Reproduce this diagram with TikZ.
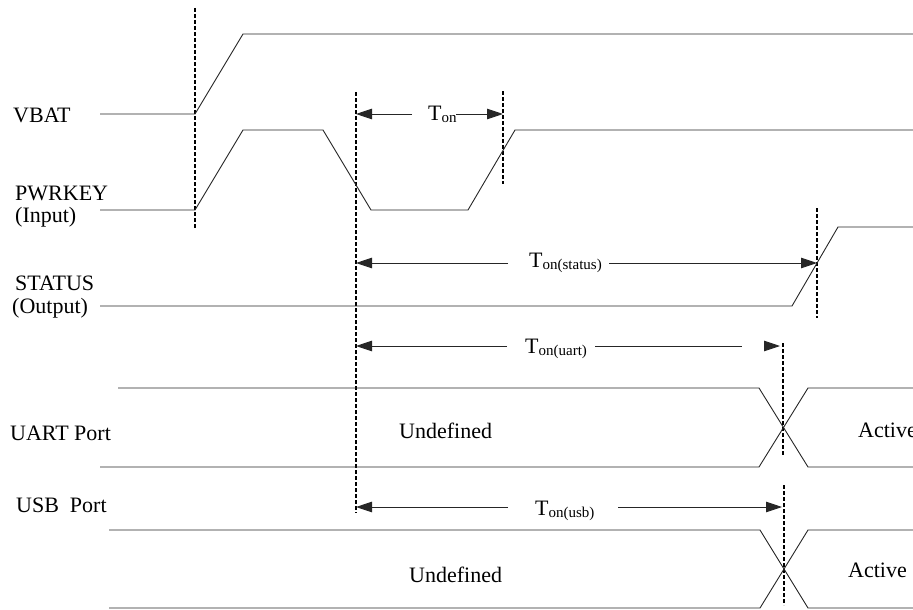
\documentclass[tikz,border=0pt]{standalone}
\usepackage{fontspec}
\setmainfont{Liberation Serif}
\usetikzlibrary{arrows.meta}
\newcommand{\tsig}[1]{T\lower2.5pt\hbox{\fontsize{15}{18}\selectfont #1}}
\tikzset{
  wave/.style={line width=0.9pt, black!85},
  marker/.style={line width=1.2pt, dash pattern=on 4pt off 2pt},
  dim/.style={line width=0.9pt, black!85},
  head/.style={-{Triangle[length=16pt,width=10.5pt]}},
  lbl/.style={anchor=base west, inner sep=0pt, font=\fontsize{22}{26}\selectfont}
}
\begin{document}
\begin{tikzpicture}[x=1pt,y=-1pt]
    \useasboundingbox (0,0) rectangle (913,610);
    % time markers
    \foreach \name/\x/\top/\bot in {m0/195/8/228, m1/356/92/513, m2/503/91/184, m3/817/208/318, m4/783/343/455, m5/784/485/605} {
        \coordinate (\name top) at (\x,\top);
        \coordinate (\name bot) at (\x,\bot);
        \draw[marker] (\name top) -- (\name bot);
    }
    % signal names
    \foreach \name/\x/\y/\label in {vbat/13/122/VBAT, pwrkey/15/200/PWRKEY, input/15/222/(Input), status/15/290/STATUS, output/12/313/(Output), uart/10/440/UART Port, usb/16/512/USB~~Port} {
        \node[lbl] (\name) at (\x,\y) {\label};
    }
    % waveforms
    \draw[wave] (100,114) -- (195,114) -- (243,34) -- (913,34);
    \draw[wave] (100,210) -- (195,210) -- (243,130) -- (323,130) -- (371,210) -- (468,210) -- (515,130) -- (913,130);
    \draw[wave] (100,306) -- (792,306) -- (838,227) -- (913,227);
    \draw[wave] (118,388) -- (759,388) -- (808,467) -- (913,467);
    \draw[wave] (100,467) -- (759,467) -- (808,388) -- (913,388);
    \draw[wave] (109,530) -- (760,530) -- (808,608) -- (913,608);
    \draw[wave] (109,608) -- (760,608) -- (808,530) -- (913,530);
    \node[lbl] (undefuart) at (399,438) {Undefined};
    \node[lbl] (actuart) at (858,437) {Active};
    \node[lbl] (undefusb) at (409,582) {Undefined};
    \node[lbl] (actusb) at (848,577) {Active};
    % timing intervals
    \foreach \name/\y/\base/\la/\tx/\rb/\rx/\sub in {ton/114/120/412/428/456/503/on, tonstatus/263/267/508/529/609/817/on(status), tonusb/507/515/508/535/618/782/on(usb)} {
        \coordinate (\name a) at (356,\y);
        \coordinate (\name b) at (\rx,\y);
        \draw[dim,head] (\la,\y) -- (\name a);
        \draw[dim,head] (\rb,\y) -- (\name b);
        \node[lbl] (\name) at (\tx,\base) {\tsig{\sub}};
    }
    \coordinate (tonuart a) at (356,346);
    \coordinate (tonuart b) at (780,346);
    \draw[dim,head] (507,346) -- (tonuart a);
    \draw[dim] (595,346) -- (742,346);
    \draw[dim,head] (764,346) -- (tonuart b);
    \node[lbl] (tonuart) at (525,353) {\tsig{on(uart)}};
\end{tikzpicture}
\end{document}
